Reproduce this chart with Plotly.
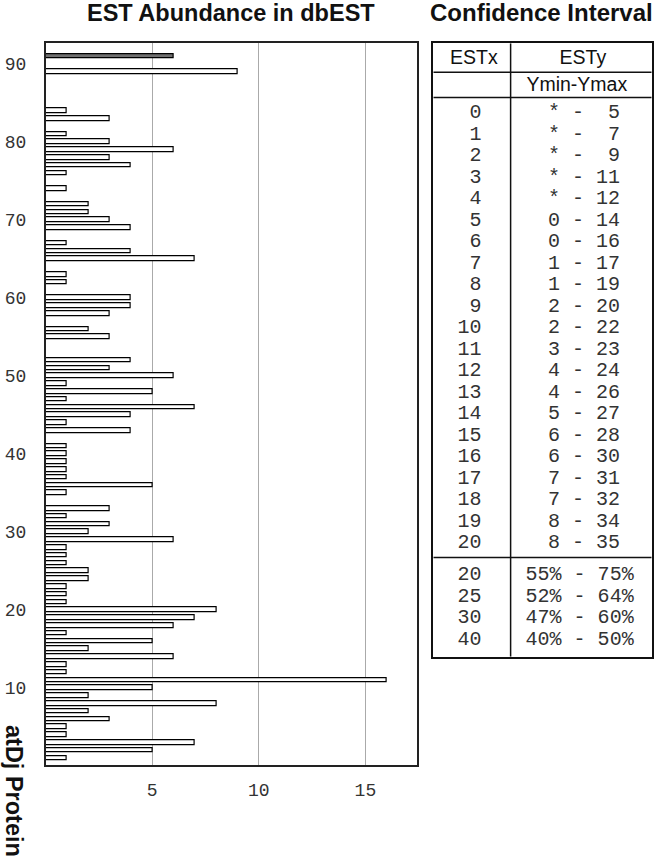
import plotly.graph_objects as go

# ---------------- data ----------------
protein_ids = list(range(1, 92))
est_counts = [
    1, 5, 7, 1, 1, 3, 2, 8, 2, 5,        # 1-10
    16, 1, 1, 6, 2, 5, 1, 6, 7, 8,       # 11-20
    1, 1, 1, 2, 2, 1, 1, 1, 6, 2,        # 21-30
    3, 1, 3, 0, 1, 5, 1, 1, 1, 1,        # 31-40
    1, 0, 4, 1, 4, 7, 1, 5, 1, 6,        # 41-50
    3, 4, 0, 0, 3, 2, 0, 3, 4, 4,        # 51-60
    0, 1, 1, 0, 7, 4, 1, 0, 4, 3,        # 61-70
    2, 2, 0, 1, 0, 1, 4, 3, 6, 3,        # 71-80
    1, 0, 3, 1, 0, 0, 0, 0, 9, 0,        # 81-90
    6,                                   # 91
]
highlight_ids = [91]

x_ticks = [5, 10, 15]
y_ticks = [10, 20, 30, 40, 50, 60, 70, 80, 90]

# confidence interval table
est_x = list(range(0, 21))
est_ymin = ["*", "*", "*", "*", "*", 0, 0, 1, 1, 2, 2, 3, 4, 4, 5, 6, 6, 7, 7, 8, 8]
est_ymax = [5, 7, 9, 11, 12, 14, 16, 17, 19, 20, 22, 23, 24, 26, 27, 28, 30, 31, 32, 34, 35]
pct_x = [20, 25, 30, 40]
pct_min = [55, 52, 47, 40]
pct_max = [75, 64, 60, 50]

header_left = "ESTx"
header_right = "ESTy"
subheader_right = "Ymin-Ymax"

# ---------------- figure ----------------
NB = "\u00a0"
MONO = "Liberation Mono, Courier New, Courier, monospace"
SANS = "Liberation Sans, Arial, Helvetica, sans-serif"

W, H = 655, 860


def px(x):
    return x / W


def py(y):
    return 1 - y / H


ids_nz = [p for p, v in zip(protein_ids, est_counts) if v > 0]
vals_nz = [v for v in est_counts if v > 0]
fill = ["#707070" if p in highlight_ids else "white" for p in ids_nz]

fig = go.Figure()
fig.add_trace(go.Bar(
    x=vals_nz, y=ids_nz, orientation="h", width=0.6,
    marker=dict(color=fill, line=dict(color="black", width=1.2)),
    xaxis="x", yaxis="y", showlegend=False, hoverinfo="x+y",
))

# table text
left_txt = [f"{v:>2}".replace(" ", NB) for v in est_x]
right_txt = [f"{a} - {b:>2}".replace(" ", NB) for a, b in zip(est_ymin, est_ymax)]
rows = list(range(len(est_x)))
tf = dict(family=MONO, size=20, color="#333")
fig.add_trace(go.Scatter(
    x=[0.166] * len(rows), y=rows, text=left_txt, mode="text", textfont=tf,
    xaxis="x2", yaxis="y2", showlegend=False, hoverinfo="skip",
))
fig.add_trace(go.Scatter(
    x=[0.69] * len(rows), y=rows, text=right_txt, mode="text", textfont=tf,
    xaxis="x2", yaxis="y2", showlegend=False, hoverinfo="skip",
))
prow = [len(est_x) + 0.5 + i for i in range(len(pct_x))]
fig.add_trace(go.Scatter(
    x=[0.166] * len(prow), y=prow, text=[f"{v:>2}".replace(" ", NB) for v in pct_x],
    mode="text", textfont=tf,
    xaxis="x2", yaxis="y2", showlegend=False, hoverinfo="skip",
))
fig.add_trace(go.Scatter(
    x=[0.67] * len(prow), y=prow,
    text=[f"{a}% - {b}%".replace(" ", NB) for a, b in zip(pct_min, pct_max)],
    mode="text", textfont=tf,
    xaxis="x2", yaxis="y2", showlegend=False, hoverinfo="skip",
))
fig.add_trace(go.Scatter(
    x=[0.186, 0.685, 0.657], y=[-2.53, -2.53, -1.27],
    text=[header_left, header_right, subheader_right], mode="text",
    textfont=dict(family=SANS, size=19.5, color="#111"),
    xaxis="x2", yaxis="y2", showlegend=False, hoverinfo="skip",
))

line_style = dict(color="#111", width=1.5)
shapes = [
    dict(type="line", xref="x2", yref="y2", x0=0, x1=1, y0=-1.9, y1=-1.9, line=line_style),
    dict(type="line", xref="x2", yref="y2", x0=0, x1=1, y0=-0.73, y1=-0.73, line=line_style),
    dict(type="line", xref="x2", yref="y2", x0=0, x1=1, y0=20.67, y1=20.67, line=line_style),
    dict(type="line", xref="x2", yref="y2", x0=0.354, x1=0.354, y0=-3.25, y1=25.28, line=line_style),
]

annotations = [
    dict(text="<b>EST Abundance in dbEST</b>", x=px(231), y=py(13), xref="paper", yref="paper",
         showarrow=False, font=dict(family=SANS, size=23.5, color="#111"), xanchor="center", yanchor="middle"),
    dict(text="<b>Confidence Interval</b>", x=px(541.5), y=py(13), xref="paper", yref="paper",
         showarrow=False, font=dict(family=SANS, size=24, color="#111"), xanchor="center", yanchor="middle"),
    dict(text="<b>atDj Protein</b>", x=px(14), y=py(791), xref="paper", yref="paper",
         showarrow=False, textangle=90, font=dict(family=SANS, size=23.5, color="#111"),
         xanchor="center", yanchor="middle"),
]

fig.update_layout(
    width=W, height=H, autosize=False,
    margin=dict(l=0, r=0, t=0, b=0),
    paper_bgcolor="white", plot_bgcolor="white",
    bargap=0,
    xaxis=dict(domain=[px(45.7), px(417)], range=[0, 17.42], tickvals=x_ticks,
               showgrid=True, gridcolor="#aaaaaa", gridwidth=1, zeroline=False,
               showline=True, mirror=True, linecolor="#222", linewidth=1.5,
               ticks="outside", ticklen=8, tickcolor="rgba(0,0,0,0)",
               tickfont=dict(family=MONO, size=18, color="#333"), anchor="y"),
    yaxis=dict(domain=[py(765), py(43.3)], range=[0.13, 92.65], tickvals=y_ticks,
               showgrid=False, zeroline=False,
               showline=True, mirror=True, linecolor="#222", linewidth=1.5,
               ticks="outside", ticklen=14, tickcolor="rgba(0,0,0,0)",
               tickfont=dict(family=MONO, size=18, color="#333"), anchor="x"),
    xaxis2=dict(domain=[px(433.3), px(651.7)], range=[0, 1], showgrid=False, zeroline=False,
                showticklabels=False, ticks="", showline=True, mirror=True,
                linecolor="#111", linewidth=1.5, anchor="y2"),
    yaxis2=dict(domain=[py(656.7), py(43.3)], range=[25.28, -3.25], showgrid=False,
                zeroline=False, showticklabels=False, ticks="", showline=True, mirror=True,
                linecolor="#111", linewidth=1.5, anchor="x2"),
    shapes=shapes,
    annotations=annotations,
)

# remove the default page margin so the figure sits at the window's top-left corner
fig.write_html("out.html", config={"displayModeBar": False},
               post_script="document.body.style.margin='0';")
